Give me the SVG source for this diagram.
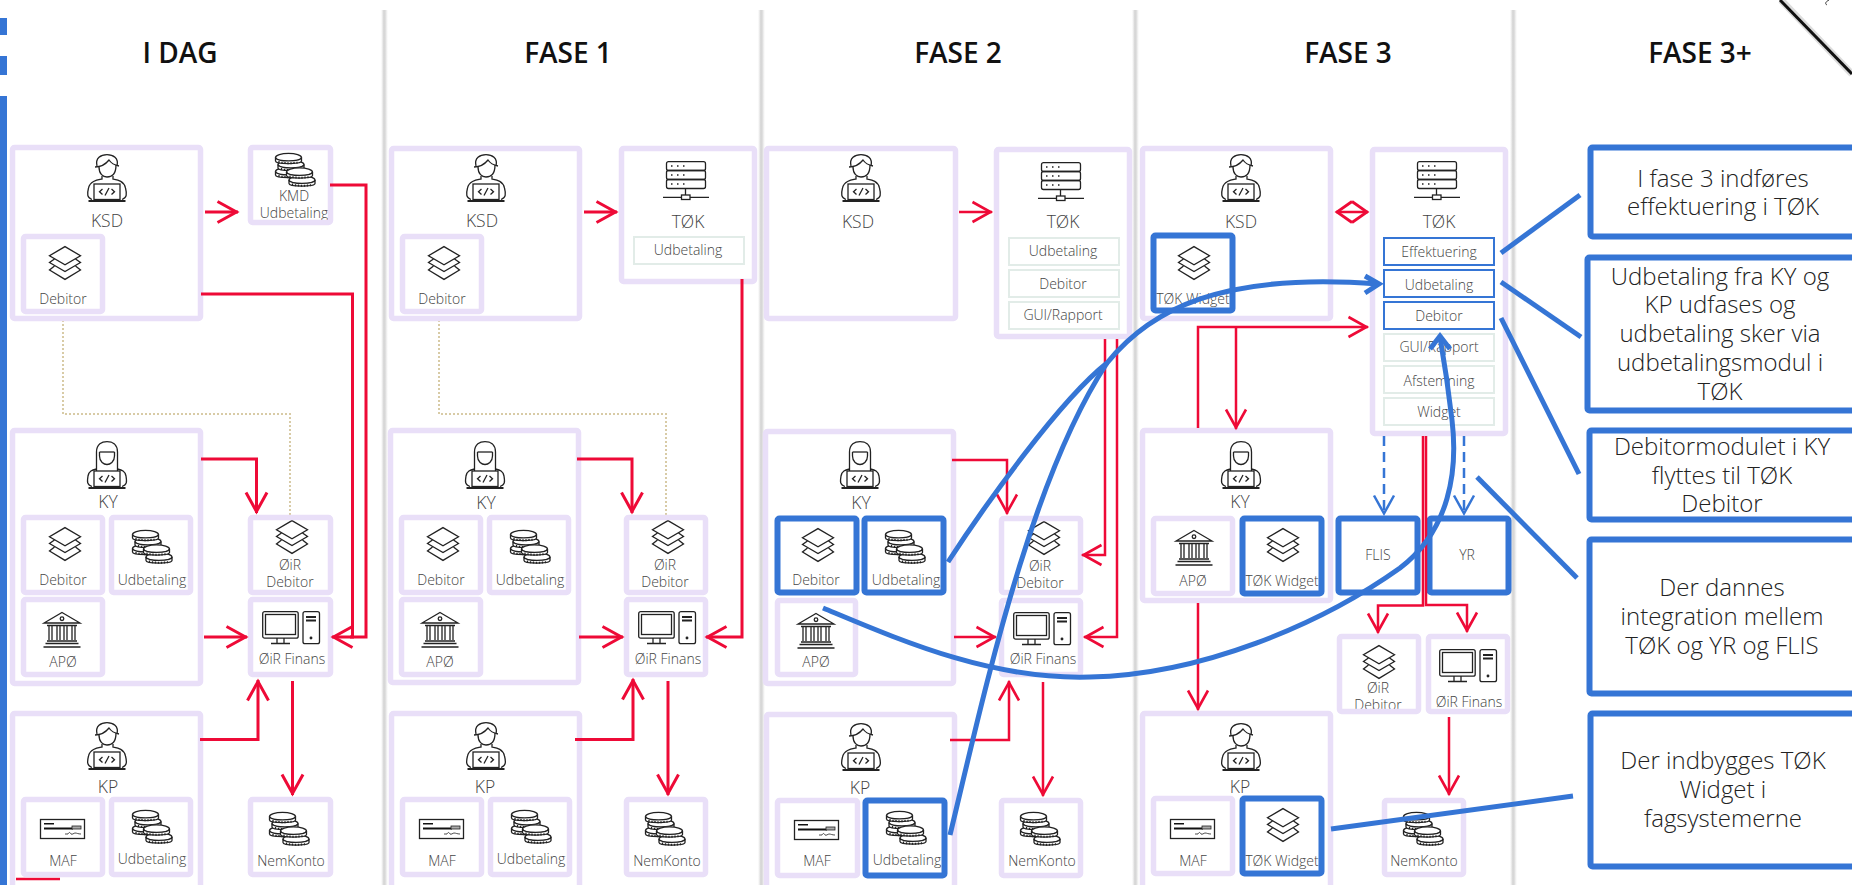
<svg xmlns="http://www.w3.org/2000/svg" width="1852" height="885" viewBox="0 0 1852 885">
<style>
text{font-family:"Open Sans","Noto Sans","Liberation Sans",sans-serif;text-anchor:middle}
.h{font-size:28px;font-weight:600;fill:#111}
.l{font-size:17.5px;font-weight:300;fill:#444}
.t{font-size:14px;font-weight:300;fill:#444}
.n{font-size:24px;font-weight:300;fill:#222}
.b{fill:none;stroke:#e9dff8;stroke-width:5.5}
.bb{fill:none;stroke:#3575d5;stroke-width:6}
.g{fill:none;stroke:#e2ece8;stroke-width:2}
.gb{fill:none;stroke:#3575d5;stroke-width:2}
.w{fill:#fff}
.i{fill:none;stroke:#222;stroke-width:1.3}
.r{fill:none;stroke:#ee0a37;stroke-width:3}
.rt{fill:none;stroke:#ee0a37;stroke-width:2.500}
.c{fill:none;stroke:#3575d5;stroke-width:5}
.d{fill:none;stroke:#d8cba6;stroke-width:2;stroke-dasharray:2 2}
.dash{fill:none;stroke:#3575d5;stroke-width:2.5;stroke-dasharray:10 6}
</style>
<defs>
<linearGradient id="dv" x1="0" x2="1" y1="0" y2="0"><stop offset="0" stop-color="#ddd" stop-opacity="0"/><stop offset=".4" stop-color="#d4d4d4"/><stop offset=".6" stop-color="#dadada"/><stop offset="1" stop-color="#e6e6e6" stop-opacity="0"/></linearGradient>
<marker id="a" markerUnits="userSpaceOnUse" markerWidth="32" markerHeight="32" refX="24.5" refY="16" viewBox="0 0 32 32" orient="auto-start-reverse"><path d="M4,5.5 L23,16 L4,26.5" fill="none" stroke="#ee0a37" stroke-width="3"/></marker>
<marker id="a2" markerUnits="userSpaceOnUse" markerWidth="32" markerHeight="32" refX="24.5" refY="16" viewBox="0 0 32 32" orient="auto-start-reverse"><path d="M5,6 L23,16 L5,26" fill="none" stroke="#ee0a37" stroke-width="2.600"/></marker>
<marker id="ad" markerUnits="userSpaceOnUse" markerWidth="32" markerHeight="32" refX="24" refY="16" viewBox="0 0 32 32" orient="auto-start-reverse"><path d="M8,5.500 L23,16 L8,26.500" fill="none" stroke="#ee0a37" stroke-width="2.800"/></marker>
<marker id="ab" markerUnits="userSpaceOnUse" markerWidth="32" markerHeight="32" refX="24.5" refY="16" viewBox="0 0 32 32" orient="auto"><path d="M5,6 L23,16 L5,26" fill="none" stroke="#3575d5" stroke-width="2.500"/></marker>
<g id="male" class="i">
<path d="M11,12 C9,4 15,.6 21,.6 C27,.6 33,4 31,12"/><path d="M13,13 C13,20 17,23 21,23 C26,23 30,20 30,11"/><path d="M9,13 C14,13 19,11 23,6 C25,9 28,11 33,12"/>
<path d="M16,22 V25 C11,26 4,27 2.500,34 C1,40 1,44 6,45.500 M27,22 V25 C32,26 38,27 39.500,34 C41,40 41,44 36,45.500"/>
<rect x="8" y="30" width="26" height="15.500"/><path d="M2.500,47 H39.500" stroke-width="2"/><path d="M16.500,35 L13.500,37.700 L16.500,40.500 M25.500,35 L28.500,37.700 L25.500,40.500 M23,34 L19,41.500"/>
</g>
<g id="female" class="i">
<path d="M10.500,30 V11 C10.500,3 16,.6 21,.6 C26,.6 31.500,3 31.500,11 V30"/><path d="M13.500,11 H28.500"/><path d="M13.500,11 V15 C13.500,21 18,23.500 21,23.500 C24,23.500 28.500,21 28.500,15 V11"/>
<path d="M10.500,28 C6,29 3,30 2,35 C1,41 1,44 6,45.500 M31.500,28 C36,29 39,30 40,35 C41,41 41,44 36,45.500"/>
<rect x="8" y="30" width="26" height="15.500"/><path d="M2.500,47 H39.500" stroke-width="2"/><path d="M16.500,35 L13.500,37.700 L16.500,40.500 M25.500,35 L28.500,37.700 L25.500,40.500 M23,34 L19,41.500"/>
</g>
<g id="layers" class="i">
<path d="M16,.6 L31.500,9.700 L16,18.800 L.5,9.700Z"/><path d="M5.500,13 L.5,16.500 L16,25.500 L31.500,16.500 L26.500,13"/><path d="M5.500,20 L.5,24 L16,33.400 L31.500,24 L26.500,20"/>
</g>
<g id="coin" class="i">
<ellipse class="w" cx="13.500" cy="4.500" rx="13" ry="4.200"/>
<path class="w" d="M.5,4.500 V8 C.5,11.500 26.500,11.500 26.500,8 V4.500 C26.500,9 .5,9 .5,4.500Z"/>
<path d="M4,8 V10 M7,8.700 V10.700 M10,9 V11 M13,9.200 V11.200 M16,9.200 V11.200 M19,9 V11 M22,8.700 V10.700"/>
</g>
<g id="coins">
<use href="#coin" x="0" y="14"/><use href="#coin" x="2.500" y="7"/><use href="#coin" x="0" y="0"/>
<use href="#coin" x="13.500" y="22.500"/><use href="#coin" x="11" y="14.500"/>
</g>
<g id="bank" class="i">
<path d="M19,.5 L37,11 H1Z"/><circle cx="19" cy="6.700" r="1.800"/><path d="M4,13.500 H34 M6,14 V28 M9,14 V28 M14,14 V28 M17,14 V28 M21,14 V28 M24,14 V28 M29,14 V28 M32,14 V28 M4,29 H34 M2.500,31.500 H35.500 M.5,35 H37.500"/>
</g>
<g id="check" class="i">
<rect x=".5" y=".5" width="44" height="19"/>
<rect x="4" y="4" width="10" height="1.500" fill="#111" stroke="none"/><rect x="4" y="8.500" width="29" height="2" fill="#111" stroke="none"/>
<rect x="32" y="7" width="9" height="3" fill="#aaa" stroke-width=".8"/><path d="M25,15 H28 C29,13 30,13 31,15 C32,16 34,14 35,14 C37,14 38,15 41,15" stroke-width=".8"/>
</g>
<g id="computer" class="i" stroke-width="1.400">
<rect x=".7" y=".7" width="35.500" height="26.500" rx="2"/><rect x="3.500" y="3.500" width="30" height="20"/><path d="M15,27 V32 M22,27 V32 M9,32.500 H28"/>
<rect x="41" y=".7" width="16.500" height="32" rx="2"/><path d="M44,6 H54 M44,9.500 H54" stroke-width="1.800"/><circle cx="49" cy="27" r=".8" fill="#222"/>
</g>
<g id="server" class="i">
<rect x="3.500" y=".7" width="39" height="8.800" rx="2"/><rect x="3.500" y="9.500" width="39" height="9" rx="2"/><rect x="3.500" y="18.500" width="39" height="9" rx="2"/>
<path d="M8,5 h1.500 M14,5 h1.500 M20,5 h1.500 M8,14 h1.500 M14,14 h1.500 M20,14 h1.500 M8,23 h1.500 M14,23 h1.500 M20,23 h1.500" stroke-width="1.500"/>
<path d="M22.500,27.500 V34 M0,36.300 H18.500 M27,36.300 H46"/><rect x="18.500" y="34" width="8.500" height="4.500"/>
</g>
</defs>
<rect width="1852" height="885" fill="#fff"/>
<g id="chrome">
<rect x="0" y="18" width="7" height="17" fill="#3575d5"/><rect x="0" y="56" width="7" height="19" fill="#3575d5"/><rect x="0" y="96" width="7" height="789" fill="#3575d5"/>
<rect x="381" y="10" width="7" height="875" fill="url(#dv)"/><rect x="758" y="10" width="7" height="875" fill="url(#dv)"/><rect x="1132" y="10" width="7" height="875" fill="url(#dv)"/><rect x="1510" y="10" width="7" height="875" fill="url(#dv)"/>
<path d="M1781,0 L1852,74" fill="none" stroke="#ddd" stroke-width="7"/><path d="M1780,0 L1852,74" fill="none" stroke="#111" stroke-width="3"/><path d="M1829,0 C1825,2 1825,4 1827,5" fill="none" stroke="#333" stroke-width="1"/>
<path d="M16,879 H60" fill="none" stroke="#ee0a37" stroke-width="2.500"/>
</g>
<g id="titles">
<text class="h" x="180" y="63">I DAG</text><text class="h" x="568" y="63">FASE 1</text><text class="h" x="958" y="63">FASE 2</text><text class="h" x="1348" y="63">FASE 3</text><text class="h" x="1700" y="63">FASE 3+</text>
</g>
<g id="dotted">
<path class="d" d="M63,312 V414 H290 V518"/><path class="d" d="M439,312 V414 H666 V518"/>
</g>

<!-- I DAG -->
<g id="d0-ksd"><use href="#male" x="86" y="154"/><text class="l" x="107" y="227">KSD</text><rect class="b" x="12.500" y="147.500" width="188" height="171" rx="2"/></g>
<g id="d0-ksd-debitor"><use href="#layers" x="49" y="246"/><text class="t" x="63" y="304">Debitor</text><rect class="b" x="23.500" y="236.500" width="79" height="75" rx="2"/></g>
<g id="d0-kmd"><use href="#coins" x="275" y="153"/><text class="t" x="294" y="201">KMD</text><text class="t" x="294" y="218">Udbetaling</text><rect class="b" x="250.500" y="147.500" width="80" height="75" rx="2"/></g>
<g id="d0-ky"><use href="#female" x="86" y="441"/><text class="l" x="108" y="508">KY</text><rect class="b" x="12.500" y="430.500" width="188" height="253" rx="2"/></g>
<g id="d0-ky-debitor"><use href="#layers" x="49" y="527"/><text class="t" x="63" y="585">Debitor</text><rect class="b" x="23.500" y="517.500" width="79" height="75" rx="2"/></g>
<g id="d0-ky-udb"><use href="#coins" x="132" y="530"/><text class="t" x="152" y="585">Udbetaling</text><rect class="b" x="111.500" y="517.500" width="79" height="75" rx="2"/></g>
<g id="d0-ky-apo"><use href="#bank" x="43" y="612"/><text class="t" x="63" y="667">APØ</text><rect class="b" x="23.500" y="599.500" width="79" height="75" rx="2"/></g>
<g id="d0-oir-deb"><use href="#layers" x="276" y="520"/><text class="t" x="290" y="570">ØiR</text><text class="t" x="290" y="587">Debitor</text><rect class="b" x="250.500" y="517.500" width="80" height="75" rx="2"/></g>
<g id="d0-oir-fin"><use href="#computer" x="262" y="611"/><text class="t" x="292" y="664">ØiR Finans</text><rect class="b" x="250.500" y="599.500" width="80" height="75" rx="2"/></g>
<g id="d0-kp"><use href="#male" x="86" y="722"/><text class="l" x="108" y="793">KP</text><rect class="b" x="12.500" y="713.500" width="188" height="180" rx="2"/></g>
<g id="d0-kp-maf"><use href="#check" x="40" y="819"/><text class="t" x="63" y="866">MAF</text><rect class="b" x="23.500" y="799.500" width="79" height="75" rx="2"/></g>
<g id="d0-kp-udb"><use href="#coins" x="132" y="810"/><text class="t" x="152" y="864">Udbetaling</text><rect class="b" x="111.500" y="799.500" width="79" height="75" rx="2"/></g>
<g id="d0-nem"><use href="#coins" x="269" y="812"/><text class="t" x="291" y="866">NemKonto</text><rect class="b" x="250.500" y="799.500" width="80" height="75" rx="2"/></g>

<!-- FASE 1 -->
<g id="f1-ksd"><use href="#male" x="465" y="154"/><text class="l" x="482" y="227">KSD</text><rect class="b" x="391.500" y="148.500" width="188" height="170" rx="2"/></g>
<g id="f1-ksd-debitor"><use href="#layers" x="428" y="246"/><text class="t" x="442" y="304">Debitor</text><rect class="b" x="402.500" y="236.500" width="79" height="75" rx="2"/></g>
<g id="f1-tok"><use href="#server" x="663" y="161"/><text class="l" x="688" y="228">TØK</text><rect class="b" x="621.500" y="148.500" width="133" height="133" rx="2"/></g>
<g id="f1-tok-udb"><text class="t" x="688" y="255">Udbetaling</text><rect class="g" x="634" y="237" width="110" height="27"/></g>
<g id="f1-ky"><use href="#female" x="464" y="441"/><text class="l" x="486" y="509">KY</text><rect class="b" x="390.500" y="430.500" width="188" height="252" rx="2"/></g>
<g id="f1-ky-debitor"><use href="#layers" x="427" y="527"/><text class="t" x="441" y="585">Debitor</text><rect class="b" x="401.500" y="517.500" width="79" height="75" rx="2"/></g>
<g id="f1-ky-udb"><use href="#coins" x="510" y="530"/><text class="t" x="530" y="585">Udbetaling</text><rect class="b" x="489.500" y="517.500" width="79" height="75" rx="2"/></g>
<g id="f1-ky-apo"><use href="#bank" x="421" y="612"/><text class="t" x="440" y="667">APØ</text><rect class="b" x="401.500" y="599.500" width="79" height="75" rx="2"/></g>
<g id="f1-oir-deb"><use href="#layers" x="652" y="520"/><text class="t" x="665" y="570">ØiR</text><text class="t" x="665" y="587">Debitor</text><rect class="b" x="626.500" y="517.500" width="79" height="75" rx="2"/></g>
<g id="f1-oir-fin"><use href="#computer" x="638" y="611"/><text class="t" x="668" y="664">ØiR Finans</text><rect class="b" x="626.500" y="599.500" width="79" height="75" rx="2"/></g>
<g id="f1-kp"><use href="#male" x="465" y="722"/><text class="l" x="485" y="793">KP</text><rect class="b" x="391.500" y="713.500" width="188" height="180" rx="2"/></g>
<g id="f1-kp-maf"><use href="#check" x="419" y="819"/><text class="t" x="442" y="866">MAF</text><rect class="b" x="402.500" y="799.500" width="79" height="75" rx="2"/></g>
<g id="f1-kp-udb"><use href="#coins" x="511" y="810"/><text class="t" x="531" y="864">Udbetaling</text><rect class="b" x="490.500" y="799.500" width="79" height="75" rx="2"/></g>
<g id="f1-nem"><use href="#coins" x="645" y="812"/><text class="t" x="667" y="866">NemKonto</text><rect class="b" x="626.500" y="799.500" width="79" height="75" rx="2"/></g>

<!-- FASE 2 -->
<g id="f2-ksd"><use href="#male" x="840" y="154"/><text class="l" x="858" y="228">KSD</text><rect class="b" x="766.500" y="148.500" width="189" height="170" rx="2"/></g>
<g id="f2-tok"><use href="#server" x="1038" y="162"/><text class="l" x="1063" y="228">TØK</text><rect class="b" x="996.500" y="149.500" width="133" height="187" rx="2"/></g>
<g id="f2-tok-udb"><text class="t" x="1063" y="256">Udbetaling</text><rect class="g" x="1009" y="238" width="110" height="27"/></g>
<g id="f2-tok-deb"><text class="t" x="1063" y="289">Debitor</text><rect class="g" x="1009" y="270" width="110" height="27"/></g>
<g id="f2-tok-gui"><text class="t" x="1063" y="320">GUI/Rapport</text><rect class="g" x="1009" y="302" width="110" height="27"/></g>
<g id="f2-ky"><use href="#female" x="839" y="441"/><text class="l" x="861" y="509">KY</text><rect class="b" x="765.500" y="431.500" width="188" height="252" rx="2"/></g>
<g id="f2-ky-debitor"><use href="#layers" x="802" y="528"/><text class="t" x="816" y="585">Debitor</text><rect class="bb" x="777.500" y="518.500" width="79" height="74" rx="2"/></g>
<g id="f2-ky-udb"><use href="#coins" x="885" y="530"/><text class="t" x="906" y="585">Udbetaling</text><rect class="bb" x="864.500" y="518.500" width="79" height="74" rx="2"/></g>
<g id="f2-ky-apo"><use href="#bank" x="797" y="613"/><text class="t" x="816" y="667">APØ</text><rect class="b" x="777.500" y="600.500" width="78" height="74" rx="2"/></g>
<g id="f2-oir-deb"><use href="#layers" x="1028" y="521"/><text class="t" x="1040" y="571">ØiR</text><text class="t" x="1040" y="588">Debitor</text><rect class="b" x="1001.500" y="518.500" width="79" height="74" rx="2"/></g>
<g id="f2-oir-fin"><use href="#computer" x="1013" y="612"/><text class="t" x="1043" y="664">ØiR Finans</text><rect class="b" x="1001.500" y="600.500" width="79" height="74" rx="2"/></g>
<g id="f2-kp"><use href="#male" x="840" y="723"/><text class="l" x="860" y="794">KP</text><rect class="b" x="766.500" y="714.500" width="188" height="180" rx="2"/></g>
<g id="f2-kp-maf"><use href="#check" x="794" y="820"/><text class="t" x="817" y="866">MAF</text><rect class="b" x="777.500" y="800.500" width="80" height="75" rx="2"/></g>
<g id="f2-kp-udb"><use href="#coins" x="886" y="811"/><text class="t" x="907" y="865">Udbetaling</text><rect class="bb" x="865.500" y="800.500" width="79" height="75" rx="2"/></g>
<g id="f2-nem"><use href="#coins" x="1020" y="812"/><text class="t" x="1042" y="866">NemKonto</text><rect class="b" x="1001.500" y="800.500" width="79" height="75" rx="2"/></g>

<!-- FASE 3 -->
<g id="f3-ksd"><use href="#male" x="1220" y="154"/><text class="l" x="1241" y="228">KSD</text><rect class="b" x="1142.500" y="148.500" width="188" height="170" rx="2"/></g>
<g id="f3-ksd-widget"><use href="#layers" x="1178" y="246"/><text class="t" x="1193" y="304">TØK Widget</text><rect class="bb" x="1153.500" y="235.500" width="79" height="75" rx="2"/></g>
<g id="f3-tok"><use href="#server" x="1414" y="161"/><text class="l" x="1439" y="228">TØK</text><rect class="b" x="1372.500" y="149.500" width="133" height="284" rx="2"/></g>
<g id="f3-tok-eff"><text class="t" x="1439" y="257">Effektuering</text><rect class="gb" x="1384" y="238" width="110" height="27"/></g>
<g id="f3-tok-udb"><text class="t" x="1439" y="290">Udbetaling</text><rect class="gb" x="1384" y="270" width="110" height="27"/></g>
<g id="f3-tok-deb"><text class="t" x="1439" y="321">Debitor</text><rect class="gb" x="1384" y="302" width="110" height="27"/></g>
<g id="f3-tok-gui"><text class="t" x="1439" y="352">GUI/Rapport</text><rect class="g" x="1384" y="334" width="110" height="27"/></g>
<g id="f3-tok-afs"><text class="t" x="1439" y="386">Afstemning</text><rect class="g" x="1384" y="366" width="110" height="27"/></g>
<g id="f3-tok-wid"><text class="t" x="1439" y="417">Widget</text><rect class="g" x="1384" y="398" width="110" height="27"/></g>
<g id="f3-ky"><use href="#female" x="1220" y="441"/><text class="l" x="1240" y="508">KY</text><rect class="b" x="1142.500" y="430.500" width="188" height="170" rx="2"/></g>
<g id="f3-ky-apo"><use href="#bank" x="1175" y="530"/><text class="t" x="1193" y="586">APØ</text><rect class="b" x="1153.500" y="518.500" width="79" height="75" rx="2"/></g>
<g id="f3-ky-widget"><use href="#layers" x="1267" y="528"/><text class="t" x="1282" y="586">TØK Widget</text><rect class="bb" x="1242.500" y="518.500" width="79" height="75" rx="2"/></g>
<g id="f3-flis"><text class="t" x="1378" y="560">FLIS</text><rect class="bb" x="1338.500" y="518.500" width="79" height="74" rx="2"/></g>
<g id="f3-yr"><text class="t" x="1467" y="560">YR</text><rect class="bb" x="1429.500" y="518.500" width="79" height="74" rx="2"/></g>
<g id="f3-oir-deb"><use href="#layers" x="1363" y="645"/><text class="t" x="1378" y="693">ØiR</text><text class="t" x="1378" y="710">Debitor</text><rect class="w" x="1339" y="709" width="80" height="8"/><rect class="b" x="1339.500" y="636.500" width="79" height="75" rx="2"/></g>
<g id="f3-oir-fin"><use href="#computer" x="1439" y="649"/><text class="t" x="1469" y="707">ØiR Finans</text><rect class="b" x="1428.500" y="636.500" width="79" height="75" rx="2"/></g>
<g id="f3-kp"><use href="#male" x="1220" y="723"/><text class="l" x="1240" y="793">KP</text><rect class="b" x="1142.500" y="713.500" width="188" height="180" rx="2"/></g>
<g id="f3-kp-maf"><use href="#check" x="1170" y="819"/><text class="t" x="1193" y="866">MAF</text><rect class="b" x="1153.500" y="798.500" width="79" height="75" rx="2"/></g>
<g id="f3-kp-widget"><use href="#layers" x="1267" y="808"/><text class="t" x="1282" y="866">TØK Widget</text><rect class="bb" x="1242.500" y="798.500" width="79" height="75" rx="2"/></g>
<g id="f3-nem"><use href="#coins" x="1403" y="812"/><text class="t" x="1424" y="866">NemKonto</text><rect class="b" x="1384.500" y="800.500" width="79" height="74" rx="2"/></g>

<!-- FASE 3+ -->
<g id="n1"><rect class="bb" x="1590.500" y="147.500" width="270" height="89" rx="2"/><text class="n" x="1723" y="187">I fase 3 indføres</text><text class="n" x="1723" y="215">effektuering i TØK</text></g>
<g id="n2"><rect class="bb" x="1587.500" y="257.500" width="270" height="153" rx="2"/><text class="n" x="1720" y="285">Udbetaling fra KY og</text><text class="n" x="1720" y="313">KP udfases og</text><text class="n" x="1720" y="342">udbetaling sker via</text><text class="n" x="1720" y="371">udbetalingsmodul i</text><text class="n" x="1720" y="400">TØK</text></g>
<g id="n3"><rect class="bb" x="1589.500" y="430.500" width="270" height="89" rx="2"/><text class="n" x="1722" y="455">Debitormodulet i KY</text><text class="n" x="1722" y="484">flyttes til TØK</text><text class="n" x="1722" y="512">Debitor</text></g>
<g id="n4"><rect class="bb" x="1589.500" y="539.500" width="270" height="154" rx="2"/><text class="n" x="1722" y="596">Der dannes</text><text class="n" x="1722" y="625">integration mellem</text><text class="n" x="1722" y="654">TØK og YR og FLIS</text></g>
<g id="n5"><rect class="bb" x="1590.500" y="713.500" width="270" height="153" rx="2"/><text class="n" x="1723" y="769">Der indbygges TØK</text><text class="n" x="1723" y="798">Widget i</text><text class="n" x="1723" y="827">fagsystemerne</text></g>

<g id="connectors">
<g id="red">
<path class="r" marker-end="url(#a)" d="M205,212 H238"/>
<path class="r" d="M330,185 H366 V637 H350"/>
<path class="r" marker-end="url(#a)" d="M201,294 H352.500 V637 H332"/>
<path class="r" marker-end="url(#a)" d="M201,459 H256.500 V513"/>
<path class="r" marker-end="url(#a)" d="M204,637 H247"/>
<path class="r" marker-end="url(#a)" d="M200,739.500 H258 V680"/>
<path class="r" marker-end="url(#a)" d="M292.500,681 V795"/>

<path class="r" marker-end="url(#a)" d="M584,212 H617"/>
<path class="r" marker-end="url(#a)" d="M742,279 V637 H706"/>
<path class="r" marker-end="url(#a)" d="M577,459 H632 V513"/>
<path class="r" marker-end="url(#a)" d="M579,637 H623"/>
<path class="r" marker-end="url(#a)" d="M575,739.500 H633 V679"/>
<path class="r" marker-end="url(#a)" d="M668,681 V795"/>

<path class="rt" marker-end="url(#a2)" d="M959,212 H992"/>
<path class="rt" marker-end="url(#a2)" d="M1105,339 V555 H1082"/>
<path class="rt" marker-end="url(#a2)" d="M1117,339 V637 H1084"/>
<path class="rt" marker-end="url(#a2)" d="M952,460 H1007 V514"/>
<path class="rt" marker-end="url(#a2)" d="M954,637 H996"/>
<path class="rt" marker-end="url(#a2)" d="M950,740 H1009 V681"/>
<path class="rt" marker-end="url(#a2)" d="M1043,682 V796"/>

<path class="rt" marker-start="url(#ad)" marker-end="url(#ad)" d="M1336,212 H1368"/>
<path class="rt" marker-end="url(#a2)" d="M1198,428 V327 H1368"/>
<path class="rt" marker-end="url(#a2)" d="M1236,327 V429"/>
<path class="rt" marker-end="url(#a2)" d="M1198,603 V710"/>
<path class="rt" marker-end="url(#a2)" d="M1423,436 V605.500 H1378 V633"/>
<path class="rt" marker-end="url(#a2)" d="M1426,436 V605 H1467 V632"/>
<path class="rt" marker-end="url(#a2)" d="M1449,717 V795"/>
</g>
<g id="dashed">
<path class="dash" marker-end="url(#ab)" d="M1384,436 V515"/>
<path class="dash" marker-end="url(#ab)" d="M1464,436 V515"/>
</g>
<g id="blue">
<path class="c" d="M1501,253 L1580,195"/>
<path class="c" d="M1501,282 L1581,337"/>
<path class="c" d="M1501,318 L1579,474"/>
<path class="c" d="M1477,477 L1577,578"/>
<path class="c" d="M1331,829 L1573,796"/>
<path class="c" d="M948,562 C985,505 1060,400 1107,363 C1150,310 1220,272 1378,284"/>
<path class="c" d="M950,835 C985,690 1030,480 1107,363"/>
<path class="c" d="M1365,276 L1379,284 L1365,293"/>
<path class="c" d="M823,608 C900,640 990,680 1090,677 C1200,675 1320,625 1400,568 C1450,530 1458,470 1452,420 C1448,385 1444,360 1440,337"/>
<path class="c" d="M1430,349 L1440,336 L1450,349"/>
</g>
</g>
</svg>
